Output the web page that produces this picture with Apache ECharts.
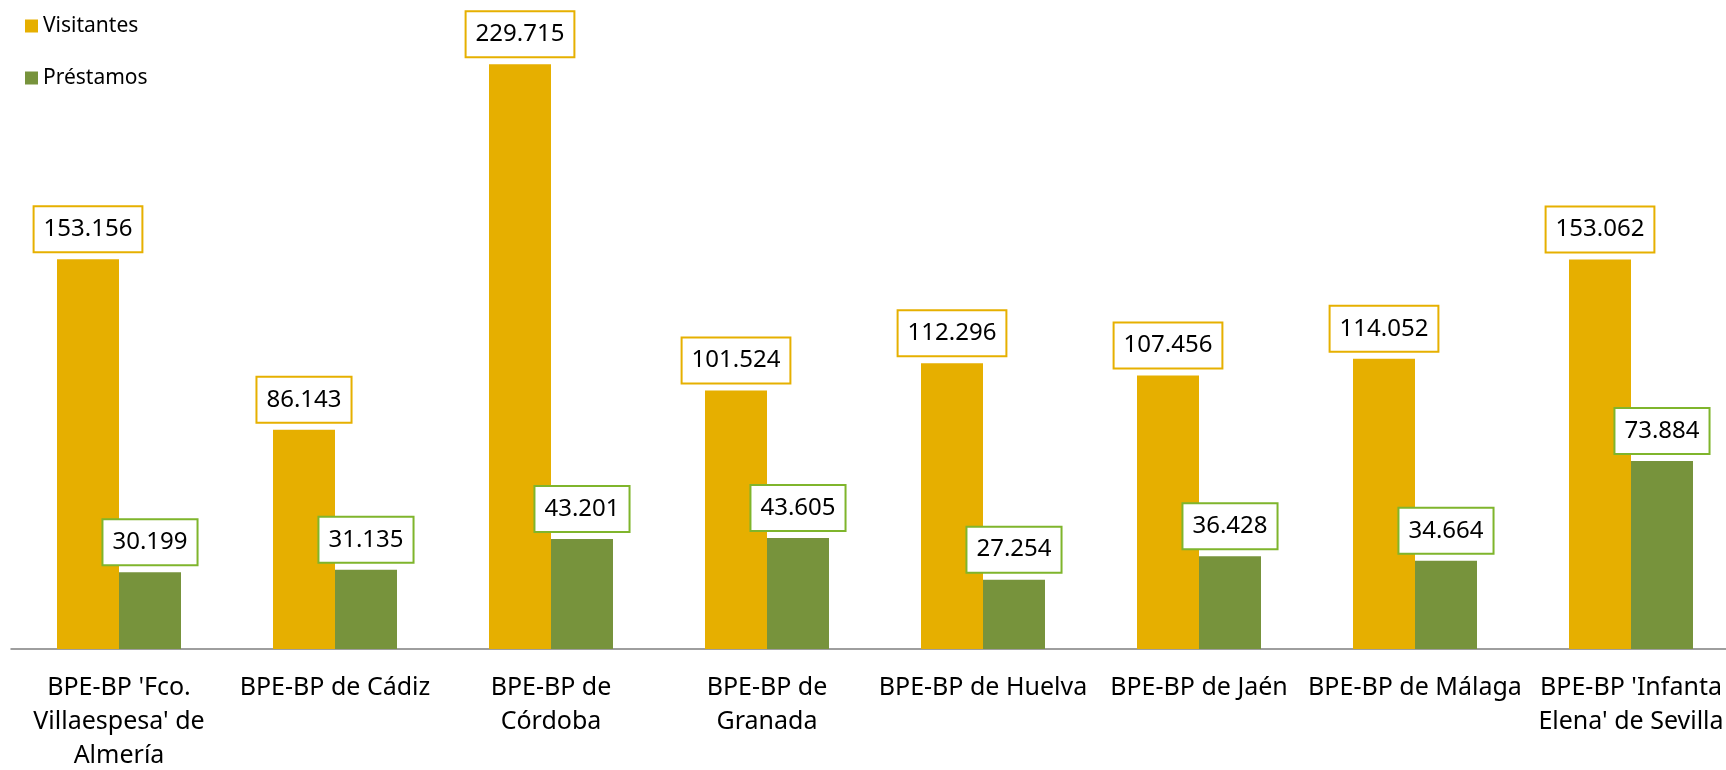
<!DOCTYPE html>
<html>
<head>
<meta charset="utf-8">
<script src="https://cdn.jsdelivr.net/npm/echarts@6/dist/echarts.min.js"></script>
<style>
  html, body { margin: 0; padding: 0; background: #fff; }
  #chart { width: 1726px; height: 770px; }
</style>
</head>
<body>
<div id="chart"></div>
<script>
const categories = [
  "BPE-BP 'Fco.\nVillaespesa' de\nAlmería",
  'BPE-BP de Cádiz',
  'BPE-BP de\nCórdoba',
  'BPE-BP de\nGranada',
  'BPE-BP de Huelva',
  'BPE-BP de Jaén',
  'BPE-BP de Málaga',
  "BPE-BP 'Infanta\nElena' de Sevilla"
];
const visitantes = [153156, 86143, 229715, 101524, 112296, 107456, 114052, 153062];
const prestamos = [30199, 31135, 43201, 43605, 27254, 36428, 34664, 73884];

const FONT = '"Noto Sans", sans-serif';

// etiqueta con recuadro blanco y borde del color de la serie
function label(border) {
  return {
    show: true,
    position: 'top',
    distance: 8,
    formatter: p => String(p.value).replace(/\B(?=(\d{3})+(?!\d))/g, '.'),
    fontFamily: FONT,
    fontSize: 24,
    lineHeight: 30,
    color: '#000',
    backgroundColor: '#fff',
    borderColor: border,
    borderWidth: 2,
    padding: [7, 9]
  };
}

const chart = echarts.init(document.getElementById('chart'));
chart.setOption({
  animation: false,
  legend: {
    orient: 'vertical',
    left: 20,
    top: 8,
    itemWidth: 13,
    itemHeight: 13,
    itemGap: 26,
    icon: 'rect',
    textStyle: { fontFamily: FONT, fontSize: 21, color: '#000', lineHeight: 26 },
    data: ['Visitantes', 'Préstamos']
  },
  grid: {
    left: 11,
    top: 0,
    width: 1728,
    bottom: 121,
    containLabel: false,
    outerBoundsMode: 'none'
  },
  xAxis: {
    type: 'category',
    data: categories,
    axisLine: { lineStyle: { color: '#7f7f7f', width: 1.5 } },
    axisTick: { length: 9, lineStyle: { color: '#7f7f7f' } },
    axisLabel: {
      interval: 0,
      margin: 22,
      fontFamily: FONT,
      fontSize: 25,
      lineHeight: 34,
      color: '#000'
    }
  },
  yAxis: {
    type: 'value',
    min: 0,
    max: 255000,
    show: false,
    splitLine: { show: false }
  },
  series: [
    {
      name: 'Visitantes',
      type: 'bar',
      data: visitantes,
      barWidth: 62,
      barGap: '0%',
      itemStyle: { color: '#e6af00' },
      label: label('#e6b000')
    },
    {
      name: 'Préstamos',
      type: 'bar',
      data: prestamos,
      barWidth: 62,
      barGap: '0%',
      itemStyle: { color: '#77933c' },
      label: label('#7fb52c')
    }
  ]
});
</script>
</body>
</html>
